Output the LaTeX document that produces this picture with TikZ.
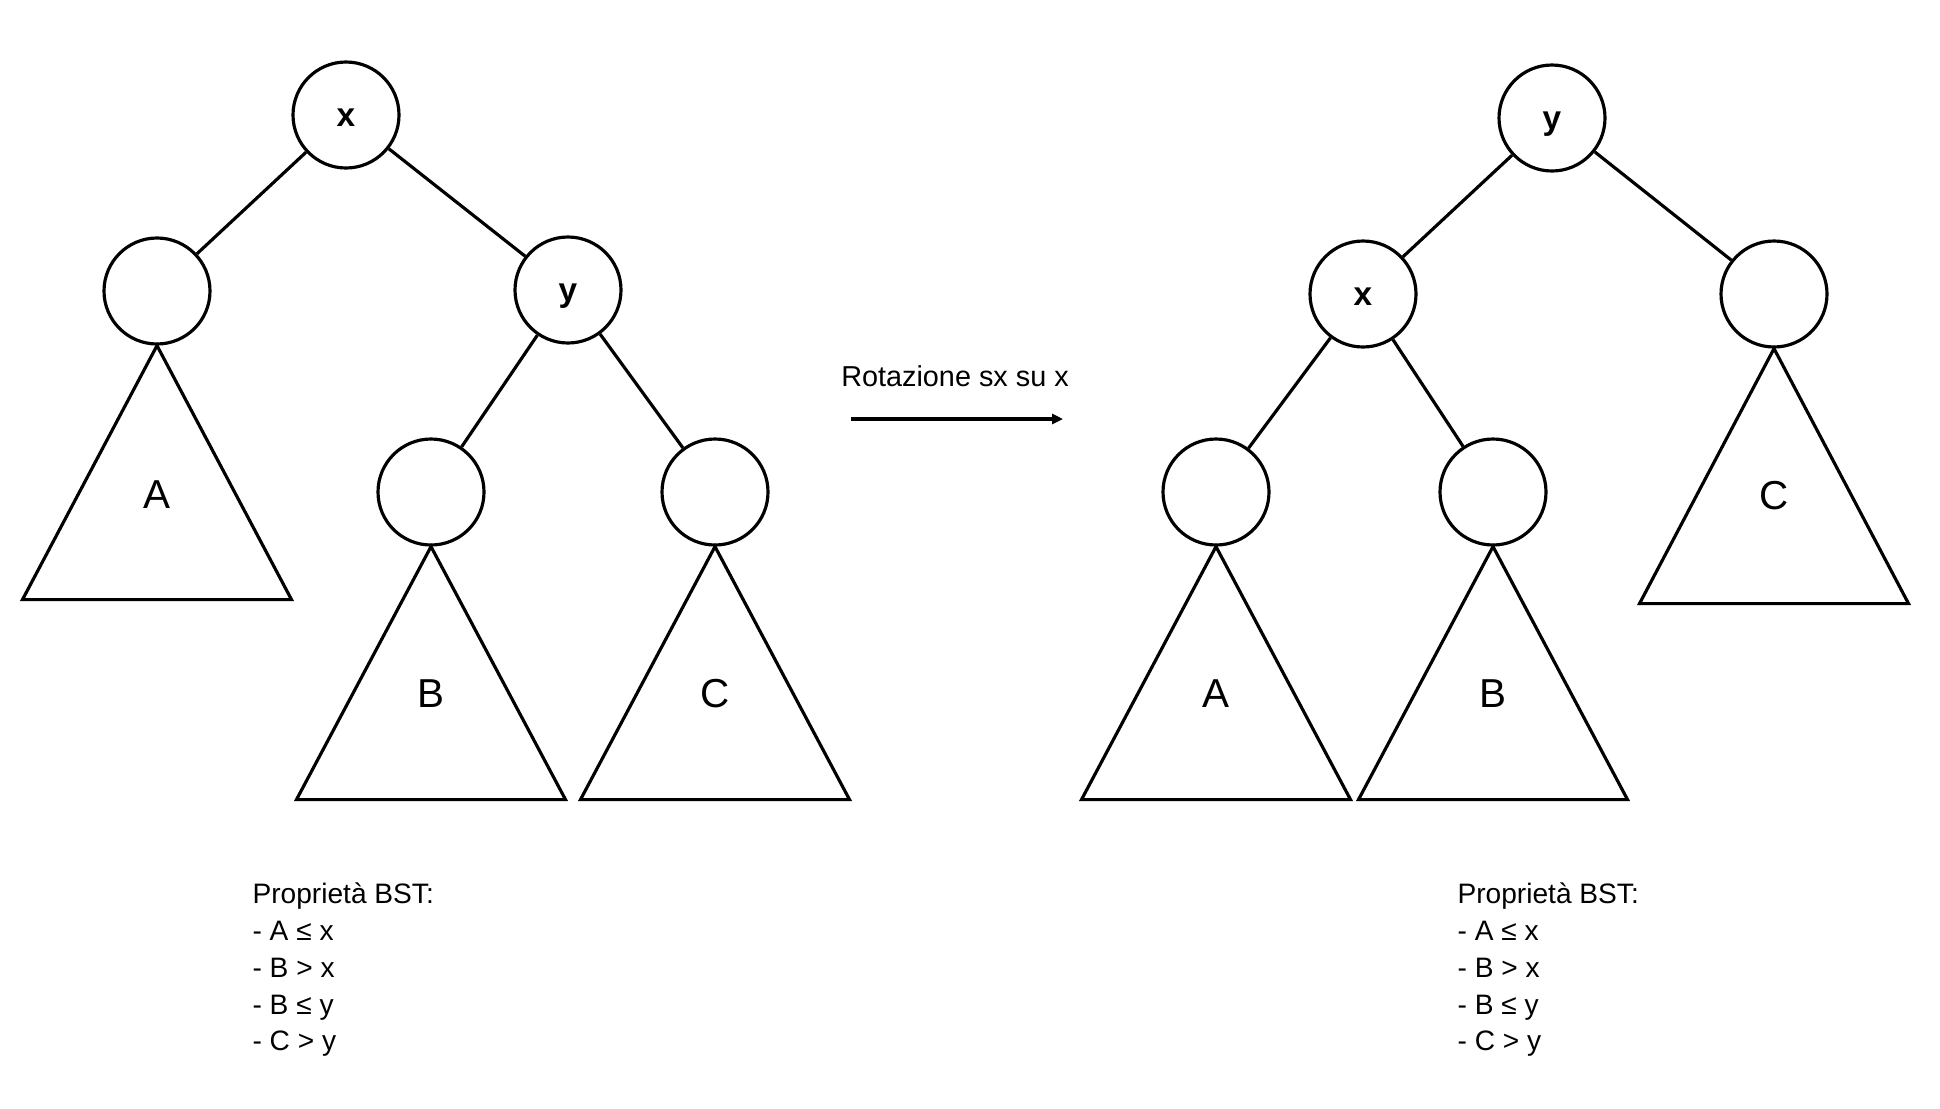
\documentclass[tikz,border=0pt]{standalone}
\usepackage{fontspec}
\setmainfont{Liberation Sans}
\usetikzlibrary{arrows.meta}
\begin{document}
\begin{tikzpicture}[line width=0.9pt,
    key/.style={circle, draw, minimum size=1.06cm, inner sep=0pt, text height=6.6pt, text depth=0pt, font=\fontsize{9.5}{11}\selectfont\bfseries},
    subtree/.style={font=\fontsize{11.5}{14}\selectfont},
    props/.style={anchor=north west, align=left, inner sep=0pt, font=\fontsize{8}{10.5}\selectfont}]
        \useasboundingbox (0, 0) rectangle (19.4, -11.08);
        % prima della rotazione
        \node[key] (lx) at (3.46, -1.15) {x};
        \node[key] (la) at (1.57, -2.91) {};
        \node[key] (ly) at (5.68, -2.90) {y};
        \node[key] (lb) at (4.31, -4.92) {};
        \node[key] (lc) at (7.15, -4.92) {};
        \draw (lx) -- (la);
        \draw (lx) -- (ly);
        \draw (ly) -- (lb);
        \draw (ly) -- (lc);
        \draw (la.south) -- ++(-1.345, -2.54) -- ++(2.69, 0) -- cycle;
        \draw (lb.south) -- ++(-1.345, -2.53) -- ++(2.69, 0) -- cycle;
        \draw (lc.south) -- ++(-1.345, -2.53) -- ++(2.69, 0) -- cycle;
        \node[subtree] (lta) at (1.57, -4.95) {A};
        \node[subtree] (ltb) at (4.31, -6.94) {B};
        \node[subtree] (ltc) at (7.15, -6.94) {C};
        \node[props] (lprops) at (2.51, -8.81) {Proprietà BST:\\- A ≤ x\\- B > x\\- B ≤ y\\- C > y};
        % freccia
        \node[font=\fontsize{8.2}{10}\selectfont] (rot) at (9.55, -3.76) {Rotazione sx su x};
        \coordinate (arrs) at (8.51, -4.19);
        \coordinate (arre) at (10.63, -4.19);
        \draw[-{Triangle[length=0.11cm, width=0.1cm]}] (arrs) -- (arre);
        % dopo la rotazione
        \node[key] (ry) at (15.52, -1.18) {y};
        \node[key] (rx) at (13.63, -2.94) {x};
        \node[key] (rc) at (17.74, -2.94) {};
        \node[key] (ra) at (12.16, -4.92) {};
        \node[key] (rb) at (14.93, -4.92) {};
        \draw (ry) -- (rx);
        \draw (ry) -- (rc);
        \draw (rx) -- (ra);
        \draw (rx) -- (rb);
        \draw (rc.south) -- ++(-1.345, -2.55) -- ++(2.69, 0) -- cycle;
        \draw (ra.south) -- ++(-1.345, -2.53) -- ++(2.69, 0) -- cycle;
        \draw (rb.south) -- ++(-1.345, -2.53) -- ++(2.69, 0) -- cycle;
        \node[subtree] (rtc) at (17.74, -4.96) {C};
        \node[subtree] (rta) at (12.16, -6.94) {A};
        \node[subtree] (rtb) at (14.93, -6.94) {B};
        \node[props] (rprops) at (14.56, -8.81) {Proprietà BST:\\- A ≤ x\\- B > x\\- B ≤ y\\- C > y};
      \end{tikzpicture}
\end{document}
